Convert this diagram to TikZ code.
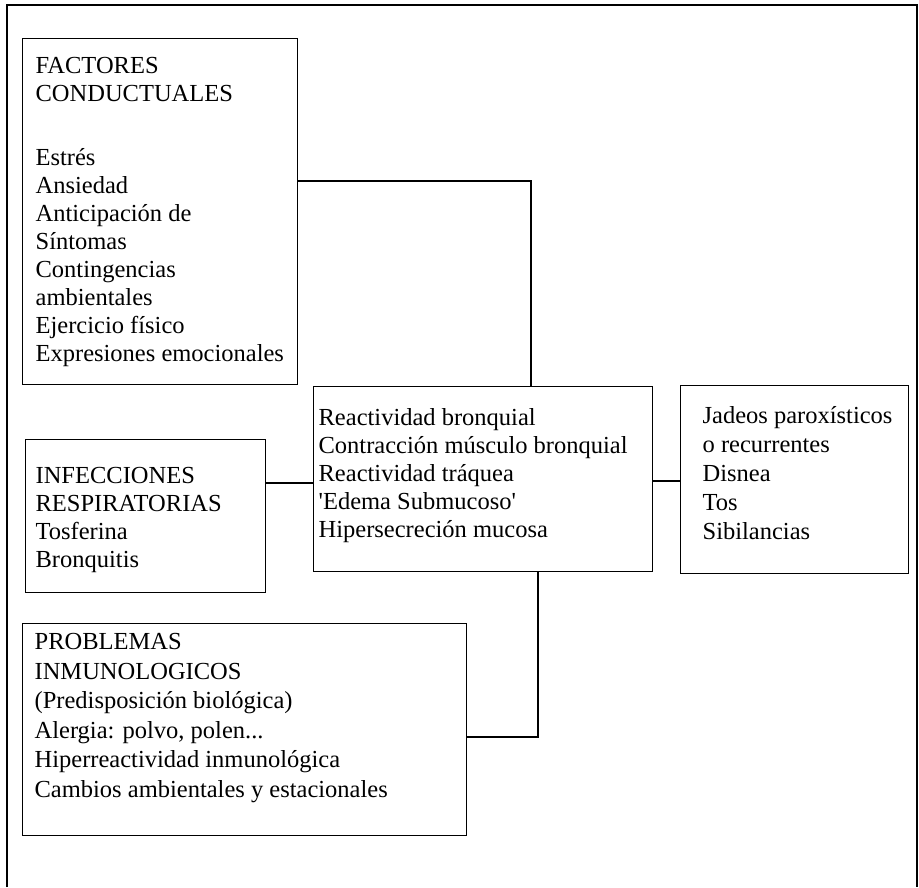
\documentclass[tikz,border=0pt]{standalone}
\usepackage{fontspec}
\setmainfont{Liberation Serif}
\begin{document}
\begin{tikzpicture}[x=1pt,y=-1pt,
  line width=1.3pt,
  box/.style={draw, rectangle, inner sep=0pt, anchor=north west},
  txt/.style={inner sep=0pt, anchor=north west, align=left,
    font=\fontsize{24.5}{28}\selectfont},
  link/.style={draw, line width=1.3pt}]
\useasboundingbox (0,0) rectangle (919,887);
% outer open frame
\draw (7,887) -- (7,5) -- (917,5) -- (917,887);
% boxes
\node[box, minimum width=275pt, minimum height=346pt] (fac) at (22,38) {};
\node[box, minimum width=240pt, minimum height=153pt] (inf) at (25,439) {};
\node[box, minimum width=339pt, minimum height=185pt] (cen) at (313,386) {};
\node[box, minimum width=228pt, minimum height=188pt] (sym) at (680,385) {};
\node[box, minimum width=444pt, minimum height=212pt] (pro) at (22,623) {};
% texts (first baseline minus strut height 19.6)
\node[txt] (facT) at (35,53.4) {\strut FACTORES\\CONDUCTUALES\\[36pt]Estrés\\Ansiedad\\Anticipación de\\Síntomas\\Contingencias\\ambientales\\Ejercicio físico\\Expresiones emocionales};
\node[txt] (infT) at (35,463.4) {\strut INFECCIONES\\RESPIRATORIAS\\Tosferina\\Bronquitis};
\node[txt] (cenT) at (318,405.4) {\strut Reactividad bronquial\\Contracción músculo bronquial\\Reactividad tráquea\\\textquotesingle Edema Submucoso\textquotesingle\\Hipersecreción mucosa};
\node[txt] (symT) at (702,403.4) {\strut Jadeos paroxísticos\\[1pt]o recurrentes\\[1pt]Disnea\\[1pt]Tos\\[1pt]Sibilancias};
\node[txt] (proT) at (34,629.4) {\strut PROBLEMAS\\[1.5pt]INMUNOLOGICOS\\[1.5pt](Predisposición biológica)\\[1.5pt]Alergia: polvo, polen...\\[1.5pt]Hiperreactividad inmunológica\\[1.5pt]Cambios ambientales y estacionales};
% connectors
\coordinate (c1) at (531,181);
\coordinate (c2) at (290,483);
\coordinate (c3) at (666,481);
\coordinate (c4) at (538,737);
\draw[link] (fac.east |- c1) -- (c1) -- (cen.north -| c1);
\draw[link] (inf.east |- c2) -- (cen.west |- c2);
\draw[link] (cen.east |- c3) -- (sym.west |- c3);
\draw[link] (cen.south -| c4) -- (c4) -- (pro.east |- c4);
\end{tikzpicture}
\end{document}
